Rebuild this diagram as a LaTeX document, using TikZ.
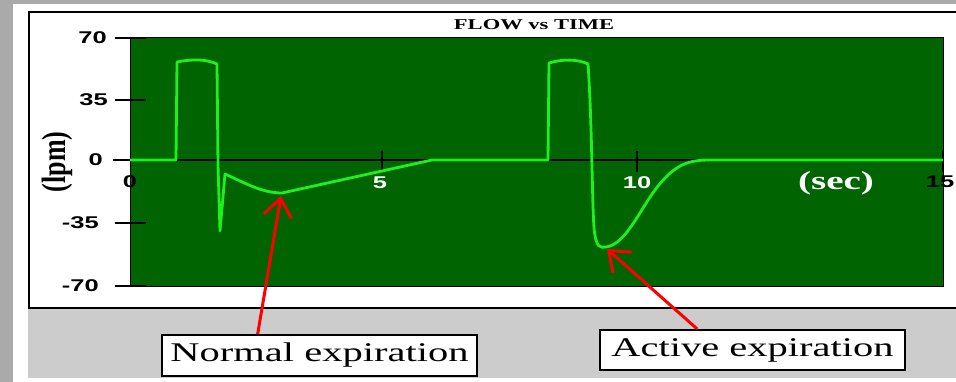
\documentclass[tikz,border=0pt]{standalone}
\usepackage{fontspec}
\setmainfont{Liberation Serif}
\setsansfont{Liberation Sans}
\usepackage{graphicx}
\usetikzlibrary{arrows.meta,calc}
\definecolor{plotgreen}{RGB}{0,100,0}
\definecolor{traceg}{RGB}{30,240,30}
\definecolor{sidegray}{RGB}{170,170,170}
\definecolor{lowgray}{RGB}{204,204,204}
\newcommand{\wide}[1]{\scalebox{1.5}[1]{#1}}
\tikzstyle{pointer} = [red, line width=3pt, -{Straight Barb[length=18pt,width=28pt,line width=3pt]}]

\begin{document}
\begin{tikzpicture}[
    x=1pt, y=-1pt,
    ticklab/.style={font=\sffamily\bfseries\fontsize{17}{17}\selectfont, inner sep=0pt},
    callout/.style={draw=black, line width=2pt, fill=white, inner sep=0pt,
        font=\fontsize{27}{27}\selectfont},
    flow/.style={traceg, line width=2.8pt, line join=round},
    axisline/.style={black, line width=2pt}
]
\useasboundingbox (0,0) rectangle (956,382);
% background
\fill[white] (0,0) rectangle (956,382);
\fill[sidegray] (0,0) rectangle (13,382);
\fill[sidegray] (0,0) rectangle (956,4);
\fill[lowgray] (28,308) rectangle (956,378);
\draw[line width=2pt] (956,12) -- (29,12) -- (29,308) -- (956,308);

% plot area
\fill[plotgreen] (130,38) rectangle (943,286);
\draw[black, line width=1pt] (130,38) rectangle (943,286);
\draw[axisline] (113,160) -- (943,160);
\foreach \y in {38,100,223,286}
    \draw[axisline] (115,\y) -- (146,\y);
\foreach \x in {382,637,943}
    \draw[axisline] (\x,151) -- (\x,172);

% flow trace
\draw[flow] (130,160) -- (176,160) -- (177,62)
    .. controls (192,59) and (206,59) .. (217,64)
    -- (218,165) -- (220,231) -- (225,174)
    .. controls (245,183) and (262,193) .. (282,193)
    -- (432,160) -- (548,160) -- (549,63)
    .. controls (562,59) and (578,59) .. (588,64)
    .. controls (592,120) and (592,200) .. (594,228)
    .. controls (596,248) and (600,248) .. (606,247)
    .. controls (625,245) and (640,210) .. (655,190)
    .. controls (675,163) and (690,160) .. (710,160)
    -- (943,160);

% labels
\node[font=\bfseries\fontsize{15}{15}\selectfont, inner sep=0pt] (title) at (534,25) {\wide{FLOW vs TIME}};
\node[ticklab, anchor=east] (y70) at (107,38) {\wide{70}};
\node[ticklab, anchor=east] (y35) at (108,100) {\wide{35}};
\node[ticklab, anchor=east] (y0) at (103,160) {\wide{0}};
\node[ticklab, anchor=east] (ym35) at (99,223) {\wide{-35}};
\node[ticklab, anchor=east] (ym70) at (99,286) {\wide{-70}};
\node[ticklab] (x0) at (130,182) {\wide{0}};
\node[ticklab, white] (x5) at (380,183) {\wide{5}};
\node[ticklab, white] (x10) at (637,183) {\wide{10}};
\node[ticklab] (x15) at (940,182) {\wide{15}};
\node[white, font=\bfseries\fontsize{26}{26}\selectfont, inner sep=0pt] (sec) at (836,183) {\wide{(sec)}};
\node[font=\bfseries\fontsize{26}{26}\selectfont, inner sep=0pt, rotate=90] (lpm) at (57,162) {\scalebox{1}[1.3]{(lpm)}};

% callouts
\node[callout, minimum width=315pt, minimum height=41pt] (normal) at (319.5,355.5) {\wide{Normal expiration}};
\node[callout, minimum width=305pt, minimum height=40pt] (active) at (752.5,350) {\wide{Active expiration}};
\coordinate (nmin) at (281,196);
\coordinate (amin) at (607,249);
\draw[pointer] ($(normal.north west)!0.305!(normal.north east)$) -- (nmin);
\draw[pointer] ($(active.north west)!0.32!(active.north east)$) -- (amin);
\end{tikzpicture}
\end{document}
